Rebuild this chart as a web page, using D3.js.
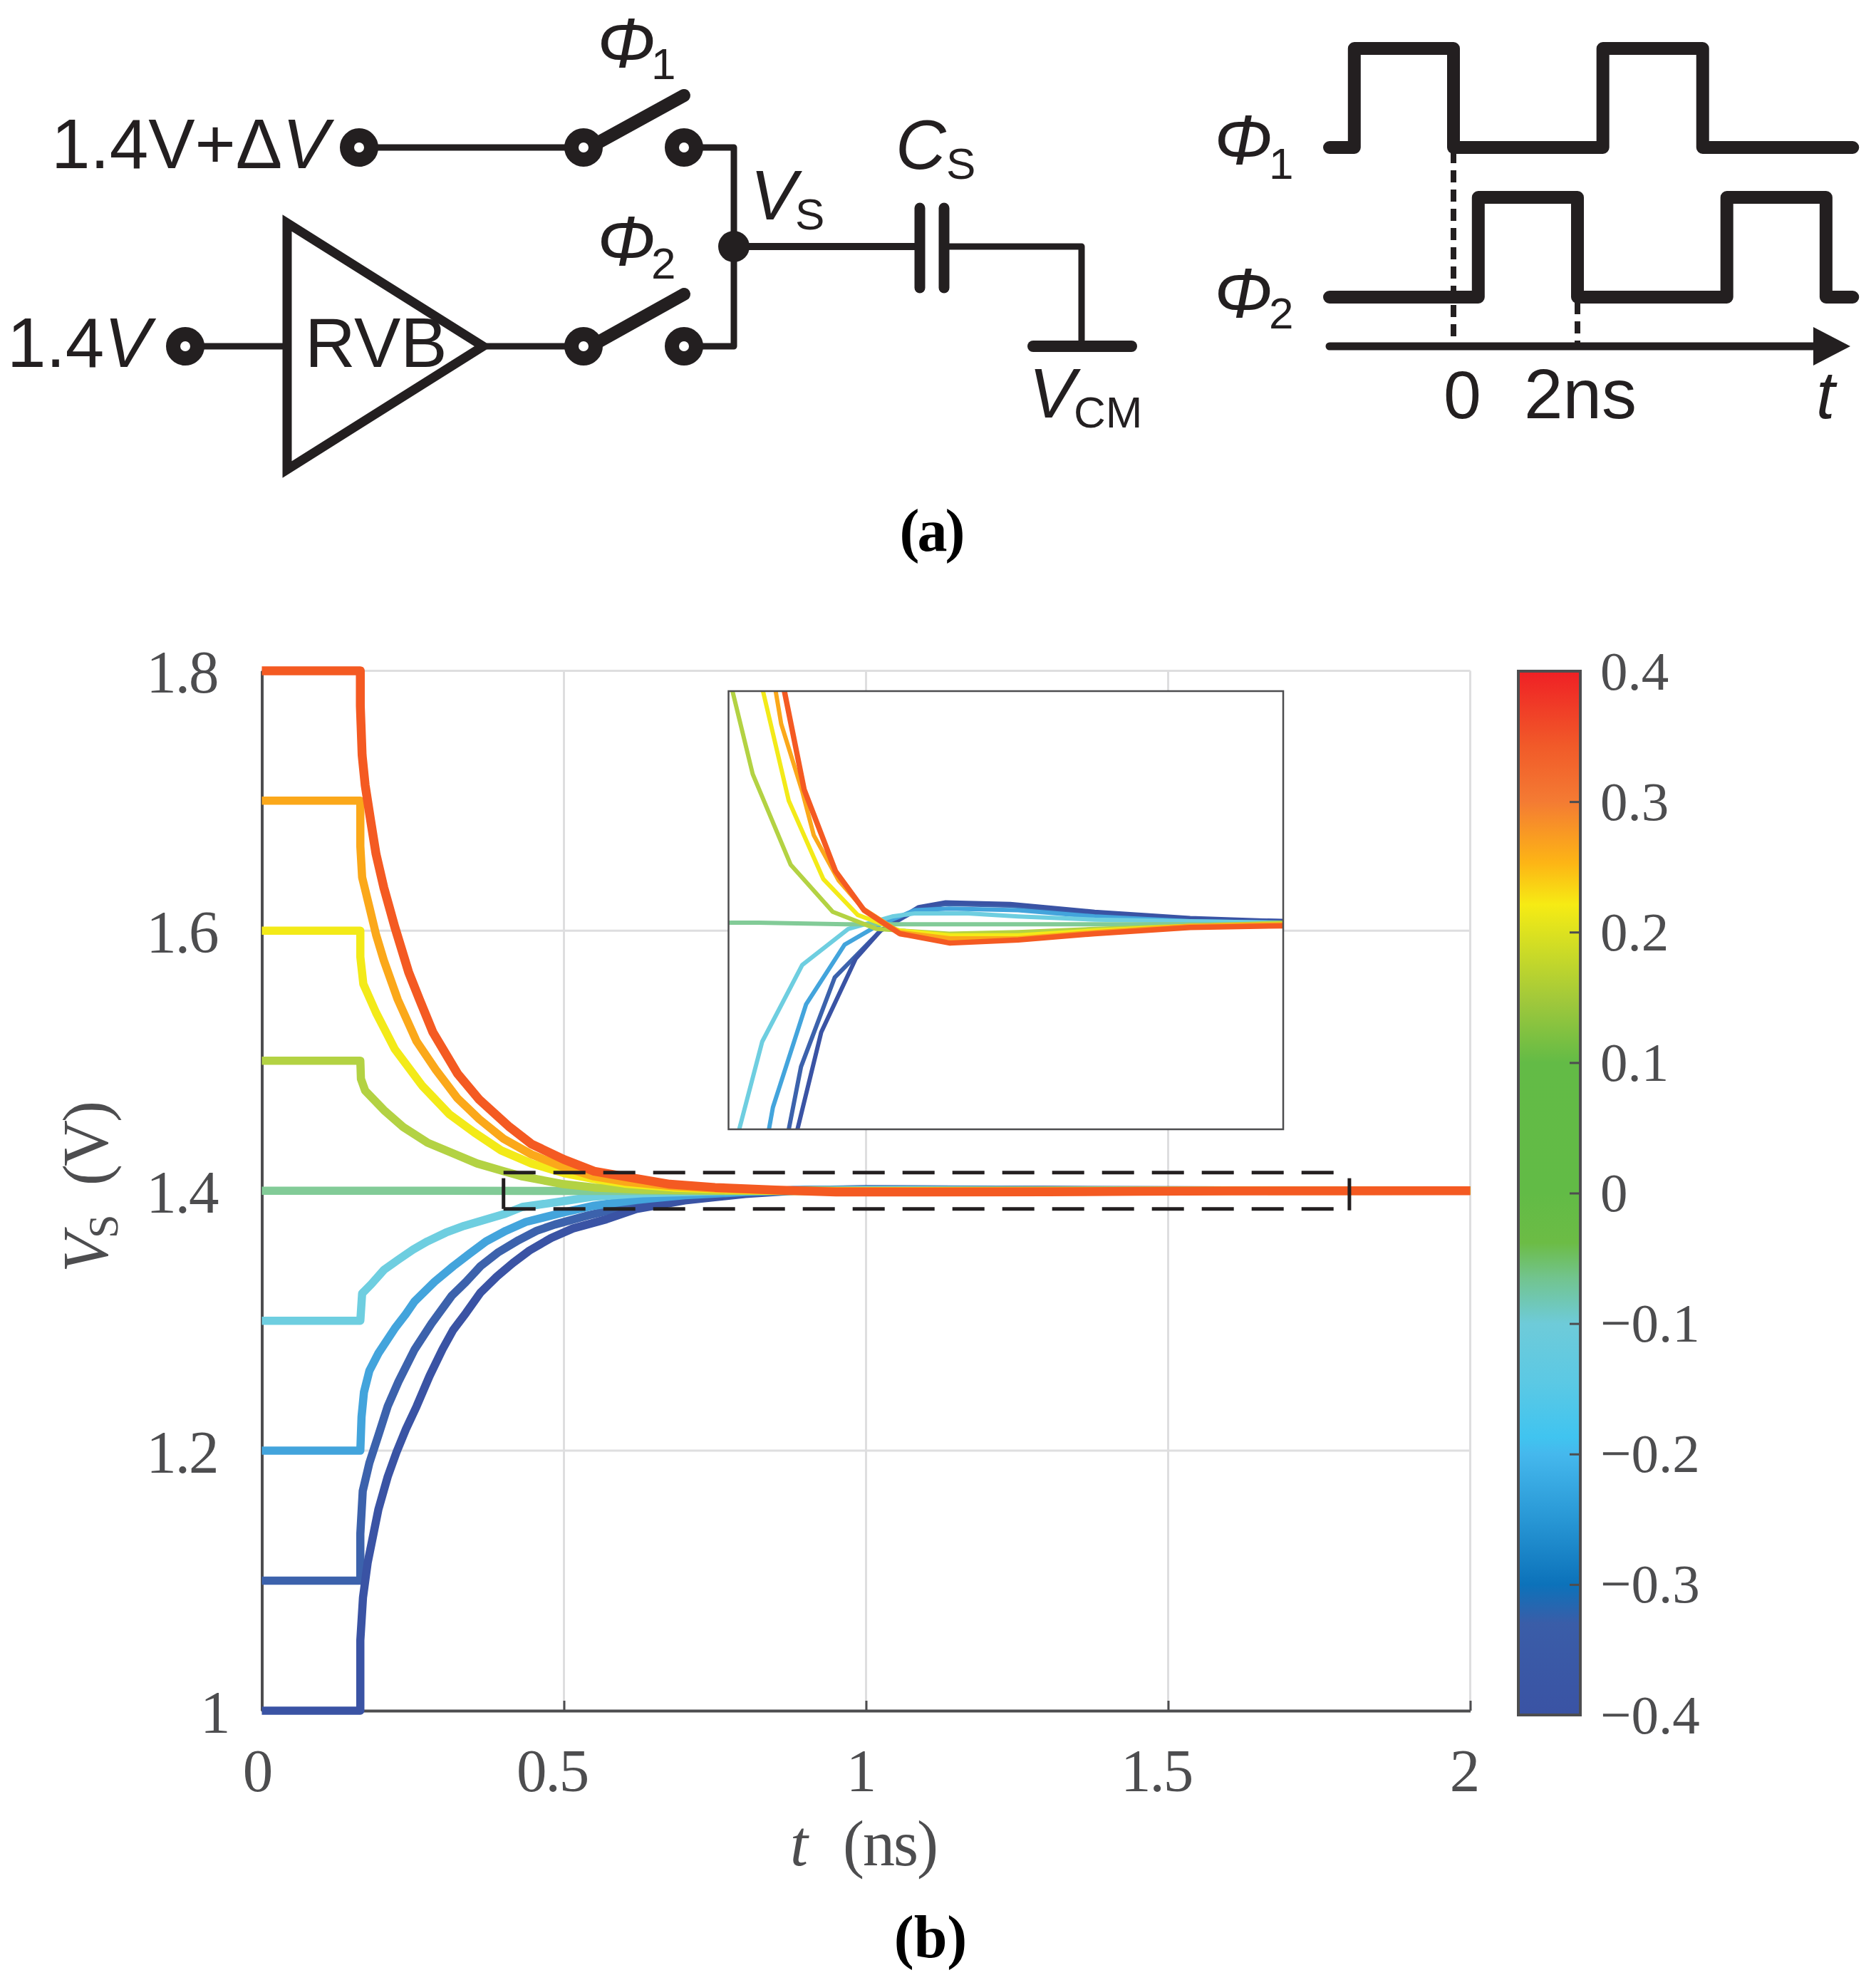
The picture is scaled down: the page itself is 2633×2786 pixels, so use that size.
<!DOCTYPE html>
<html><head><meta charset="utf-8">
<script src="https://cdn.jsdelivr.net/npm/d3@7/dist/d3.min.js"></script>
<style>html,body{margin:0;padding:0;background:#fff}svg{display:block}</style></head>
<body><svg id="c" width="2633" height="2786"></svg>
<script>
// ---------- data ----------
const xTicks=[0,0.5,1,1.5,2], xTickLabels=["0","0.5","1","1.5","2"];
const yTicks=[1,1.2,1.4,1.6,1.8], yTickLabels=["1","1.2","1.4","1.6","1.8"];
const cbTicks=[-0.4,-0.3,-0.2,-0.1,0,0.1,0.2,0.3,0.4];
const cbTickLabels=["\u22120.4","\u22120.3","\u22120.2","\u22120.1","0","0.1","0.2","0.3","0.4"];
const cbValues=[0.4,0.343,0.3,0.253,0.221,0.2,0.147,0.1,0,-0.038,-0.065,-0.1,-0.144,-0.187,-0.2,-0.25,-0.3,-0.33,-0.4];
const cbColors=["#EF2025","#F15A29","#F47B33","#FDB515","#F6EB14","#DDE21F","#A0C83B","#63BB46","#62BB46","#6CBC45","#72C48E","#6ECBD9","#5CC9E4","#40C4F0","#45B8ED","#2897D5","#0C72BA","#3A5DA8","#3A53A4"];

const names=["1.1V","1.0V","1.2V","1.3V","1.4V","1.5V","1.6V","1.7V","1.8V"];
const colors=["#3C62AC","#3A53A4","#43A4DC","#6ECEE0","#82CB97","#B3D243","#F3EA18","#FBA81A","#F45A22"];

// main plot curves
const t18=[0,.163,.163,.166,.171,.180,.189,.202,.220,.243,.261,.283,.324,.360,.410,.446,.500,.550,.599,.675,.75,.85,.95,1.1,1.3,1.45,1.6,2];
const v18=[1.8,1.8,1.773,1.735,1.712,1.685,1.659,1.633,1.603,1.568,1.547,1.522,1.490,1.470,1.449,1.436,1.424,1.415,1.411,1.405,1.4025,1.4005,1.3990,1.3990,1.3992,1.3995,1.3998,1.4];
const t17=[0,.163,.163,.166,.175,.189,.202,.225,.256,.288,.324,.360,.400,.446,.500,.55,.60,.68,.76,.85,.95,1.1,1.3,1.6,2];
const v17=[1.7,1.7,1.665,1.641,1.624,1.597,1.577,1.547,1.515,1.493,1.471,1.455,1.440,1.428,1.418,1.411,1.407,1.4035,1.4015,1.4002,1.3997,1.3996,1.3997,1.3999,1.4];
const t16=[0,.163,.163,.168,.189,.220,.265,.310,.351,.396,.446,.50,.55,.60,.68,.76,.85,.95,1.3,2];
const v16=[1.6,1.6,1.580,1.559,1.537,1.509,1.481,1.459,1.445,1.431,1.421,1.4135,1.409,1.4055,1.4025,1.401,1.4,1.3997,1.3998,1.4];
const t15=[0,.163,.164,.171,.202,.234,.274,.315,.356,.400,.431,.50,.55,.63,.75,.95,2];
const v15=[1.5,1.5,1.486,1.477,1.462,1.449,1.437,1.429,1.421,1.415,1.411,1.405,1.4025,1.4008,1.4,1.3998,1.4];
const t14=[0,.3,.5,2];
const v14=[1.4,1.4,1.3998,1.4];
const t13=[0,.163,.166,.181,.2023,.226,.2504,.274,.3046,.335,.401,.431,.5,.55,.63,.75,.85,1.0,1.3,1.6,2];
const v13=[1.3,1.3,1.321,1.328,1.3392,1.347,1.3547,1.361,1.3678,1.373,1.382,1.3875,1.392,1.3955,1.398,1.3995,1.4003,1.4005,1.4003,1.4001,1.4];
const t12=[0,.163,.165,.169,.178,.193,.220,.2384,.253,.286,.317,.3437,.371,.4038,.437,.497,.55,.62,.70,.8,.9,1.0,1.3,2];
const v12=[1.2,1.2,1.226,1.245,1.2615,1.275,1.294,1.3051,1.315,1.330,1.342,1.3515,1.361,1.3692,1.376,1.383,1.3885,1.393,1.3965,1.399,1.4005,1.4007,1.4003,1.4];
const t11=[0,.163,.163,.167,.178,.193,.2083,.226,.253,.281,.314,.3376,.362,.3918,.425,.455,.485,.54,.60,.68,.78,.88,1.0,1.3,1.6,2];
const v11=[1.1,1.1,1.136,1.169,1.1906,1.212,1.2342,1.253,1.278,1.298,1.319,1.3297,1.342,1.3528,1.362,1.3692,1.374,1.381,1.3875,1.3935,1.398,1.4005,1.401,1.4005,1.4002,1.4];
const t10=[0,.163,.163,.1674,.1752,.193,.2083,.223,.2384,.256,.2775,.299,.3166,.338,.3617,.389,.4159,.443,.479,.515,.57,.62,.70,.80,.9,1.0,1.3,1.6,2];
const v10=[1.0,1.0,1.054,1.087,1.114,1.155,1.180,1.199,1.2165,1.234,1.2574,1.278,1.2928,1.306,1.3215,1.334,1.3446,1.354,1.3637,1.371,1.378,1.386,1.3925,1.3975,1.4005,1.4012,1.4006,1.4002,1.4];
const seriesT=[t11,t10,t12,t13,t14,t15,t16,t17,t18];
const seriesV=[v11,v10,v12,v13,v14,v15,v16,v17,v18];

// inset curves
const it18=[.541,.591,.670,.742,.832,.959,1.131,1.324,1.565,1.80];
const iv18=[1.4149,1.4086,1.4034,1.4009,1.3994,1.3988,1.3990,1.3994,1.3998,1.3999];
const it17=[.519,.533,.586,.615,.678,.740,.832,.959,1.131,1.324,1.565,1.80];
const iv17=[1.4149,1.4128,1.4085,1.4057,1.4028,1.4010,1.3995,1.3991,1.3991,1.3995,1.3999,1.4000];
const it16=[.487,.552,.639,.726,.832,.959,1.131,1.324,1.565,1.80];
const iv16=[1.4149,1.4079,1.4029,1.4006,1.3996,1.3993,1.3993,1.3996,1.3999,1.4000];
const it15=[.410,.461,.557,.663,.774,.957,1.131,1.324,1.565,1.80];
const iv15=[1.4149,1.4096,1.4038,1.4008,1.3997,1.3994,1.3995,1.3997,1.3999,1.4001];
const it14=[.40,.475,.697,.959,1.324,1.80];
const iv14=[1.4001,1.4001,1.4000,1.4000,1.4000,1.4000];
const it13=[.427,.485,.586,.702,.813,.871,1.005,1.131,1.324,1.565,1.80];
const iv13=[1.3869,1.3925,1.3974,1.3997,1.4005,1.4007,1.4007,1.4005,1.4003,1.4002,1.4001];
const it12=[.502,.512,.596,.693,.775,.870,.957,1.131,1.324,1.565,1.80];
const iv12=[1.3869,1.3883,1.3949,1.3987,1.3999,1.4009,1.4010,1.4009,1.4005,1.4002,1.4001];
const it11=[.552,.583,.668,.726,.784,.880,.948,1.111,1.324,1.565,1.80];
const iv11=[1.3869,1.3909,1.3966,1.3981,1.3996,1.4010,1.4013,1.4012,1.4007,1.4003,1.4002];
const it10=[.574,.634,.721,.784,.880,.948,1.111,1.324,1.565,1.80];
const iv10=[1.3869,1.3931,1.3978,1.3996,1.4011,1.4014,1.4013,1.4008,1.4004,1.4002];
const insetT=[it11,it10,it12,it13,it14,it15,it16,it17,it18];
const insetVs=[iv11,iv10,iv12,iv13,iv14,iv15,iv16,iv17,iv18];
const zoomT=[0.40,1.80], zoomV=[1.386,1.414], insetV=[1.3869,1.4149];

// timing diagram of panel (a): [time in ns, level]
const phi1Time=[-2,-1.6,-1.6,0,0,2.41,2.41,4.02,4.02,6.44];
const phi1Level=[0,0,1,1,0,0,1,1,0,0];
const phi2Time=[-2,0.4,0.4,2,2,4.41,4.41,6.01,6.01,6.44];
const phi2Level=[0,0,1,1,0,0,1,1,0,0];

// ---------- helpers ----------
const svg=d3.select("#c");
const INK="#231F20", GREY="#4D4D4F", GRID="#DEDEDF";
const SANS="'Liberation Sans',Arial,sans-serif", SERIF="'Liberation Serif','Times New Roman',serif";
function txt(x,y,s,size,o={}){
  return svg.append("text").attr("x",x).attr("y",y).text(s)
   .attr("font-size",size).attr("font-family",o.family||SANS).attr("fill",o.fill||INK)
   .attr("font-style",o.italic?"italic":"normal").attr("font-weight",o.bold?"bold":"normal")
   .attr("text-anchor",o.anchor||"start").attr("transform",o.transform||null);
}
function seg(pts,w,o={}){
  return svg.append("path").attr("d",d3.line()(pts)).attr("fill",o.fill||"none").attr("stroke",INK)
   .attr("stroke-width",w).attr("stroke-linecap",o.cap||"butt").attr("stroke-linejoin",o.join||"round")
   .attr("stroke-dasharray",o.dash||null);
}
function node(x,y){svg.append("circle").attr("cx",x).attr("cy",y).attr("r",17).attr("fill","#fff").attr("stroke",INK).attr("stroke-width",20);}

// ---------- panel (a): circuit ----------
seg([[504,207],[819,207]],9);
seg([[960,207],[1030,207],[1030,486],[960,486]],9);
seg([[260,486],[403,486]],9);
seg([[683,486],[819,486]],9);
seg([[838,201],[960,134]],18,{cap:"round"});
seg([[838,481],[960,413]],18,{cap:"round"});
seg([[1030,346],[1291,346]],10);
seg([[1325,346],[1518,346],[1518,486]],9);
seg([[1291,292],[1291,404]],15,{cap:"round"});
seg([[1325,292],[1325,404]],15,{cap:"round"});
seg([[1450,486],[1588,486]],16,{cap:"round"});
svg.append("path").attr("d",d3.line()([[403,313],[678,486],[403,659]])+"Z").attr("fill","none").attr("stroke",INK).attr("stroke-width",13).attr("stroke-linejoin","miter").attr("stroke-miterlimit",6);
[[504,207],[819,207],[960,207],[260,486],[819,486],[960,486]].forEach(p=>node(p[0],p[1]));
svg.append("circle").attr("cx",1030).attr("cy",346).attr("r",22).attr("fill",INK);

const t1=txt(72,236,"1.4V+\u0394",98); t1.append("tspan").attr("font-style","italic").text("V");
const t2=txt(10,515,"1.4",98); t2.append("tspan").attr("font-style","italic").text("V");
txt(428,515,"RVB",98);
txt(838,94,"\u03A6",98,{italic:true}); txt(914,111,"1",62);
txt(838,372,"\u03A6",98,{italic:true}); txt(914,391,"2",62);
txt(1053,308,"V",98,{italic:true}); txt(1116,322,"S",62);
txt(1257,237,"C",98,{italic:true}); txt(1328,251,"S",62);
txt(1444,586,"V",98,{italic:true}); txt(1507,600,"CM",62);
txt(1307,773,"(a)",84,{family:SERIF,bold:true,anchor:"middle",fill:"#000"}).attr("letter-spacing",-3);

// ---------- panel (a): timing ----------
const tx=d3.scaleLinear().domain([0,2]).range([2040,2214]);
const yP1=d3.scaleLinear().domain([0,1]).range([207,68]);
const yP2=d3.scaleLinear().domain([0,1]).range([417,277]);
function wave(ts,ls,ys){
  svg.append("path").datum(d3.zip(ts,ls)).attr("d",d3.line().x(d=>tx(d[0])).y(d=>ys(d[1])))
   .attr("fill","none").attr("stroke",INK).attr("stroke-width",18).attr("stroke-linejoin","round").attr("stroke-linecap","round");
}
wave(phi1Time,phi1Level,yP1); wave(phi2Time,phi2Level,yP2);
seg([[tx(0),212],[tx(0),486]],8,{dash:"17 10"});
seg([[tx(2),424],[tx(2),486]],8,{dash:"17 10"});
seg([[1866,486],[2550,486]],11,{cap:"round"});
svg.append("path").attr("d","M2545,459L2597,486L2545,513Z").attr("fill",INK);
txt(1704,230,"\u03A6",98,{italic:true}); txt(1781,251,"1",62);
txt(1704,445,"\u03A6",98,{italic:true}); txt(1781,461,"2",62);
txt(2026,587,"0",95); txt(2139,587,"2ns",98); txt(2549,587,"t",95,{italic:true});

// ---------- panel (b): main plot ----------
const x=d3.scaleLinear().domain([0,2]).range([367.5,2063.5]);
const y=d3.scaleLinear().domain([1,1.8]).range([2401,941.4]);
const grid=svg.append("g");
grid.selectAll("line.v").data(xTicks).join("line").attr("x1",d=>x(d)).attr("x2",d=>x(d)).attr("y1",y(1.8)).attr("y2",y(1)).attr("stroke",GRID).attr("stroke-width",3);
grid.selectAll("line.h").data(yTicks).join("line").attr("y1",d=>y(d)).attr("y2",d=>y(d)).attr("x1",x(0)).attr("x2",x(2)).attr("stroke",GRID).attr("stroke-width",3);

function styleAxis(g){
  g.select(".domain").attr("stroke",GREY).attr("stroke-width",4);
  g.selectAll(".tick line").attr("stroke",GREY).attr("stroke-width",3);
  g.selectAll("text").attr("font-family",SERIF).attr("fill",GREY).attr("font-size",85);
}
const xLabelShift=[-7,-17,-8,-17,-9];
const ax=svg.append("g").attr("transform",`translate(0,${y(1)})`)
 .call(d3.axisBottom(x).tickValues(xTicks).tickSizeInner(-14).tickSizeOuter(0).tickFormat((d,i)=>xTickLabels[i])).call(styleAxis);
ax.selectAll("text").attr("y",113).attr("dy",0).attr("dx",(d,i)=>xLabelShift[i]).attr("letter-spacing",-2);
const ay=svg.append("g").attr("transform",`translate(${x(0)},0)`)
 .call(d3.axisLeft(y).tickValues(yTicks).tickSizeInner(-14).tickSizeOuter(0).tickFormat((d,i)=>yTickLabels[i])).call(styleAxis);
ay.selectAll("text").attr("x",(d,i)=>i===0?-46:-62).attr("dy",30).attr("text-anchor","end").attr("letter-spacing",-2);

const line=d3.line().x(d=>x(d[0])).y(d=>y(d[1]));
const curves=svg.append("g");
seriesT.forEach((ts,i)=>{
  curves.append("path").datum(d3.zip(ts,seriesV[i])).attr("d",line).attr("fill","none")
   .attr("stroke",colors[i]).attr("stroke-width",i===8?12.5:11.5).attr("stroke-linejoin","round").attr("data-series",names[i]);
});

// zoom indicator
const bx0=x(zoomT[0]),bx1=x(zoomT[1]),by0=y(zoomV[1]),by1=y(zoomV[0]);
seg([[bx0,by0],[bx1-14,by0]],5,{dash:"45 25"});
seg([[bx0,by1],[bx1-14,by1]],5,{dash:"45 25"});
seg([[bx0,by0+8],[bx0,by1]],5);
seg([[bx1,by0+8],[bx1,by1+2]],5);

// ---------- inset ----------
const ix=d3.scaleLinear().domain(zoomT).range([1022.5,1801]);
const iy=d3.scaleLinear().domain(insetV).range([1585,970]);
svg.append("rect").attr("x",ix.range()[0]).attr("y",iy.range()[1]).attr("width",ix.range()[1]-ix.range()[0]).attr("height",iy.range()[0]-iy.range()[1]).attr("fill","#fff");
svg.append("clipPath").attr("id","ic").append("rect").attr("x",ix.range()[0]).attr("y",iy.range()[1]).attr("width",ix.range()[1]-ix.range()[0]).attr("height",iy.range()[0]-iy.range()[1]);
const iline=d3.line().x(d=>ix(d[0])).y(d=>iy(d[1]));
const ig=svg.append("g").attr("clip-path","url(#ic)");
insetT.forEach((ts,i)=>{
  ig.append("path").datum(d3.zip(ts,insetVs[i])).attr("d",iline).attr("fill","none")
   .attr("stroke",colors[i]).attr("stroke-width",i===8?7.5:6).attr("stroke-linejoin","round").attr("stroke-linecap","square");
});
svg.append("rect").attr("x",ix.range()[0]).attr("y",iy.range()[1]).attr("width",ix.range()[1]-ix.range()[0]).attr("height",iy.range()[0]-iy.range()[1]).attr("fill","none").attr("stroke",GREY).attr("stroke-width",2.5);

// ---------- colorbar ----------
const cy=d3.scaleLinear().domain([-0.4,0.4]).range([2407,942]);
const grad=svg.append("linearGradient").attr("id","cb").attr("x1",0).attr("x2",0).attr("y1",0).attr("y2",1);
const off=d3.scaleLinear().domain([0.4,-0.4]).range([0,1]);
cbValues.forEach((v,i)=>grad.append("stop").attr("offset",off(v)).attr("stop-color",cbColors[i]));
svg.append("rect").attr("x",2131).attr("y",cy(0.4)).attr("width",87).attr("height",cy(-0.4)-cy(0.4)).attr("fill","url(#cb)").attr("stroke",GREY).attr("stroke-width",4);
const cb=svg.append("g").attr("transform","translate(2218,0)")
 .call(d3.axisRight(cy).tickValues(cbTicks).tickSizeInner(-15).tickSizeOuter(0).tickFormat((d,i)=>cbTickLabels[i])).call(styleAxis);
cb.select(".domain").remove();
cb.selectAll("text").attr("x",28).attr("dy",25).attr("font-size",77);

// ---------- axis titles & panel label ----------
txt(1109,2618,"t",90,{family:SERIF,italic:true,fill:GREY});
txt(1183,2618,"(ns)",90,{family:SERIF,fill:GREY}).attr("letter-spacing",-2);
const yTitle=svg.append("g").attr("transform","translate(151,1786) rotate(-90)");
function yPart(u,dy,s,size,italic,ls){
  yTitle.append("text").attr("x",u).attr("y",dy).text(s).attr("font-size",size).attr("font-family",SERIF).attr("fill",GREY)
   .attr("font-style",italic?"italic":"normal").attr("letter-spacing",ls||0);
}
yPart(0,0,"V",90,true);
yPart(48,14,"S",60,false);
yPart(122,0,"(V)",90,false,-3);
txt(1306,2747,"(b)",84,{family:SERIF,bold:true,anchor:"middle",fill:"#000"});
</script></body></html>
